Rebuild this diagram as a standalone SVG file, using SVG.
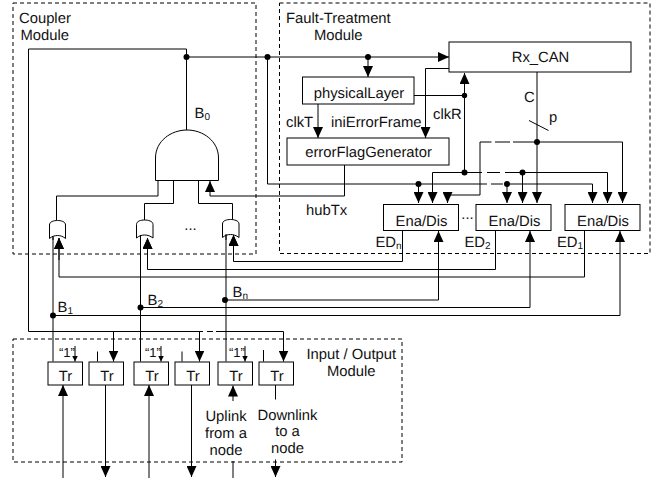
<svg xmlns="http://www.w3.org/2000/svg" width="656" height="481" viewBox="0 0 656 481">
<style>
text{font-family:"Liberation Sans",Arial,sans-serif;font-size:14.8px;fill:#111;text-rendering:geometricPrecision}
.m{text-anchor:middle}
.s{font-size:10px}
.q{font-size:13px}
.b{fill:#fff;stroke:#000;stroke-width:1}
.w{fill:none;stroke:#000;stroke-width:1}
.a{marker-end:url(#h)}
.n{marker-end:url(#t)}
.d{fill:none;stroke:#000;stroke-width:1;stroke-dasharray:4 3}
</style>
<defs>
<marker id="h" markerUnits="userSpaceOnUse" markerWidth="11" markerHeight="10" refX="11" refY="5" orient="auto"><path d="M0,0L11,5L0,10Z" fill="#000"/></marker>
<marker id="t" markerUnits="userSpaceOnUse" markerWidth="6" markerHeight="6" refX="6" refY="3" orient="auto"><path d="M0,0L6,3L0,6Z" fill="#000"/></marker>
</defs>
<g id="modules">
<rect class="d" x="13" y="3" width="243" height="251"/>
<rect class="d" x="279.5" y="3" width="370.5" height="250.5"/>
<rect class="d" x="13" y="339" width="389" height="123"/>
<text x="19" y="23">Coupler</text><text x="20.5" y="40">Module</text>
<text x="286" y="23">Fault-Treatment</text><text x="314" y="40">Module</text>
<text x="306.5" y="359">Input / Output</text><text x="327" y="375.5">Module</text>
</g>
<g id="connectors">
<path class="w" d="M186.5,130V49H28.5V331.5H113"/>
<path class="w a" d="M368,57V77"/>
<path class="w a" d="M186,57H449"/>
<path class="w a" d="M318,104V138"/>
<path class="w a" d="M449,68.5H425.5V138"/>
<path class="w" d="M414,95.5H464.5"/>
<path class="w a" d="M464.5,172.5V73"/>
<path class="w" d="M537,72V142"/>
<path class="w" d="M529,120.5L548.5,130.5"/>
<path class="w a" d="M537,142V203"/>
<path class="w a" d="M537,142H622.5V203"/>
<path class="w" d="M513,142H537M495,142H510"/>
<path class="w a" d="M491.5,142H480V195H447.5V203"/>
<path class="w a" d="M482,172.5H432.5V203"/>
<path class="w" d="M487,172.5H500"/>
<path class="w a" d="M505,172.5H607.5V203"/>
<path class="w a" d="M522.5,172.5V203"/>
<path class="w" d="M267.5,57V184H487M491,184H503"/>
<path class="w a" d="M507,184H592.5V203"/>
<path class="w a" d="M418.5,184V203"/>
<path class="w a" d="M507,184V203"/>
<path class="w a" d="M344.5,165V196H210V181"/>
<path class="w" d="M158,180V196H56.5V220.5"/>
<path class="w" d="M173.5,180V203.5H144.5V220"/>
<path class="w" d="M198.5,180V203.5H232.5V219.5"/>
<path class="w a" d="M402.5,231V261.5H233.5V235"/>
<path class="w a" d="M495.5,231V269.5H147.5V238"/>
<path class="w a" d="M584.5,231V277H59V238"/>
<path class="w a" d="M225,300H438.5V231"/>
<path class="w a" d="M140.5,307.5H530V231"/>
<path class="w a" d="M53,315.5H620V231"/>
<path class="w" d="M53,237V361.5"/>
<path class="w" d="M140.5,236V361.5"/>
<path class="w" d="M226,235V361.5"/>
<path class="w a" d="M113.5,331.5V361.5"/>
<path class="w a" d="M113,331.5H199.5V361.5"/>
<path class="w" d="M199,331.5H203M207,331.5H213"/>
<path class="w a" d="M216,331.5H283.5V361.5"/>
<path class="w" d="M97.5,351.5V361.5M182,351.5V361.5M263.5,350V361.5"/>
<path class="w n" d="M75,346V361.5"/>
<path class="w n" d="M161,346V361.5"/>
<path class="w n" d="M245,346V361.5"/>
<path class="w a" d="M63,478V385"/>
<path class="w a" d="M105.5,385V477"/>
<path class="w a" d="M149,478V385"/>
<path class="w a" d="M191.5,385V477"/>
<path class="w a" d="M233,401V385.5"/>
<path class="w" d="M233,461V478"/>
<path class="w" d="M275.5,385V399.5"/>
<path class="w a" d="M275.5,459.5V477"/>
<g fill="#000">
<circle cx="186.5" cy="57" r="3"/><circle cx="267.5" cy="57" r="3"/><circle cx="368" cy="57" r="3"/>
<circle cx="464.5" cy="95.5" r="2.7"/><circle cx="464.5" cy="172.5" r="3"/><circle cx="537" cy="142" r="3"/>
<circle cx="522.5" cy="172.5" r="3"/><circle cx="418.5" cy="184" r="3"/><circle cx="507" cy="184" r="3"/>
<circle cx="53" cy="315.5" r="3"/><circle cx="140.5" cy="307.5" r="3"/><circle cx="225" cy="300" r="3"/>
</g>
</g>
<g id="and-gate"><path class="b" d="M155.5,180.5V158C155.5,141 171,130 187,130C203,130 218.5,141 218.5,158V180.5Z"/><text x="194.5" y="117.5">B<tspan class="s" dy="2">0</tspan></text></g>
<g id="or-1"><path class="b" d="M49.5,238.5V225C49.5,221.5 54,220.5 57.5,220.5C61,220.5 65.5,221.5 65.5,225V238.5C61,234.5 54,234.5 49.5,238.5Z"/></g>
<g id="or-2"><path class="b" d="M136.5,238V224.5C136.5,221 141,220 144.5,220C148,220 153,221 153,224.5V238C148,234 141,234 136.5,238Z"/></g>
<g id="or-3"><path class="b" d="M222.5,237.5V224C222.5,220.5 227,219.5 230.5,219.5C234,219.5 239,220.5 239,224V237.5C234,233.5 227,233.5 222.5,237.5Z"/></g>
<path class="w" d="M53,236V240M140.5,235V240M226,234V240"/>
<path class="w a" d="M59,260V238"/><path class="w a" d="M147.5,260V238"/><path class="w a" d="M233.5,255V235"/>
<g id="rx-can"><rect class="b" x="449" y="42" width="182" height="30"/><text class="m" x="540.5" y="62">Rx_CAN</text></g>
<g id="physical-layer"><rect class="b" x="302.5" y="77" width="111.5" height="27"/><text class="m" x="359" y="97.5">physicalLayer</text></g>
<g id="error-flag-generator"><rect class="b" x="287" y="138" width="162" height="27"/><text class="m" x="368.5" y="157">errorFlagGenerator</text></g>
<g id="ena-n"><rect class="b" x="383.5" y="204.5" width="75" height="26"/><text class="m" x="421.5" y="225.5">Ena/Dis</text></g>
<g id="ena-2"><rect class="b" x="476" y="204.5" width="75" height="26"/><text class="m" x="514.5" y="225.5">Ena/Dis</text></g>
<g id="ena-1"><rect class="b" x="565" y="204.5" width="75" height="26"/><text class="m" x="603" y="225.5">Ena/Dis</text></g>
<g id="tr-1"><rect class="b" x="48" y="362" width="34.5" height="23"/><text class="m" x="65.5" y="381">Tr</text></g>
<g id="tr-2"><rect class="b" x="89" y="362" width="34.5" height="23"/><text class="m" x="107" y="381">Tr</text></g>
<g id="tr-3"><rect class="b" x="134" y="362" width="34.5" height="23"/><text class="m" x="152" y="381">Tr</text></g>
<g id="tr-4"><rect class="b" x="175" y="362" width="34.5" height="23"/><text class="m" x="193" y="381">Tr</text></g>
<g id="tr-5"><rect class="b" x="218" y="362" width="34.5" height="23"/><text class="m" x="236" y="381">Tr</text></g>
<g id="tr-6"><rect class="b" x="259" y="362" width="34.5" height="23"/><text class="m" x="277" y="381">Tr</text></g>
<g id="labels">
<text x="286" y="126.5">clkT</text><text x="331" y="126.5">iniErrorFrame</text><text x="433" y="119">clkR</text>
<text x="524" y="101.5">C</text><text x="549" y="122">p</text><text x="306" y="214.5">hubTx</text>
<text x="375.5" y="246.5">ED<tspan class="s" dy="2">n</tspan></text><text x="464.5" y="246.5">ED<tspan class="s" dy="2">2</tspan></text><text x="557" y="246.5">ED<tspan class="s" dy="2">1</tspan></text>
<text x="57.5" y="311.5">B<tspan class="s" dy="2">1</tspan></text><text x="147.5" y="305">B<tspan class="s" dy="2">2</tspan></text><text x="232.5" y="297">B<tspan class="s" dy="2">n</tspan></text>
<text class="m" x="190.5" y="230">...</text><text class="m" x="467.5" y="219">...</text>
<text class="q" x="59" y="357">“1”</text><text class="q" x="145" y="357">“1”</text><text class="q" x="229" y="357">“1”</text>
<text class="m" x="226" y="420.5">Uplink</text><text class="m" x="226" y="437.5">from a</text><text class="m" x="226" y="454.5">node</text>
<text class="m" x="287.5" y="419.5">Downlink</text><text class="m" x="287.5" y="436">to a</text><text class="m" x="287.5" y="453">node</text>
</g>
</svg>
